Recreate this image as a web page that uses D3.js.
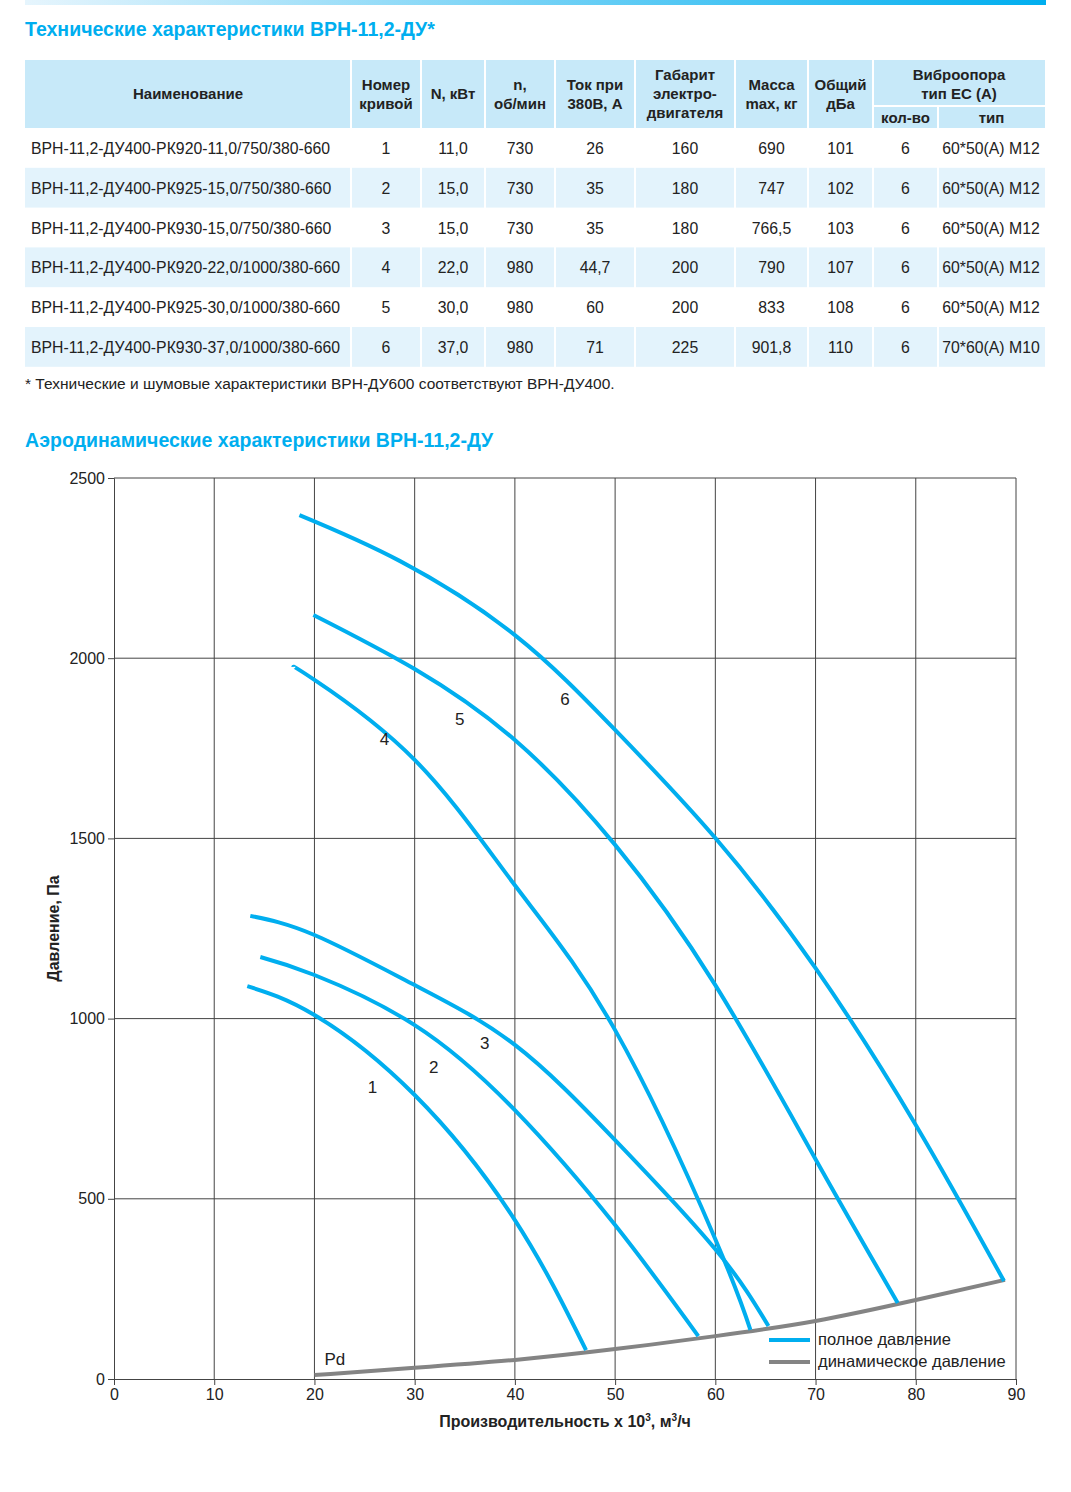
<!DOCTYPE html>
<html><head><meta charset="utf-8">
<script src="https://cdn.jsdelivr.net/npm/d3@7"></script>
<style>body{margin:0;background:#fff;font-family:Arial,"Liberation Sans",sans-serif}</style>
</head><body><svg id="chart" width="1071" height="1492" font-family="Arial, Liberation Sans, sans-serif"></svg>
<script>
const rows = [
  ['ВРН-11,2-ДУ400-РК920-11,0/750/380-660','1','11,0','730','26','160','690','101','6','60*50(A) M12'],
  ['ВРН-11,2-ДУ400-РК925-15,0/750/380-660','2','15,0','730','35','180','747','102','6','60*50(A) M12'],
  ['ВРН-11,2-ДУ400-РК930-15,0/750/380-660','3','15,0','730','35','180','766,5','103','6','60*50(A) M12'],
  ['ВРН-11,2-ДУ400-РК920-22,0/1000/380-660','4','22,0','980','44,7','200','790','107','6','60*50(A) M12'],
  ['ВРН-11,2-ДУ400-РК925-30,0/1000/380-660','5','30,0','980','60','200','833','108','6','60*50(A) M12'],
  ['ВРН-11,2-ДУ400-РК930-37,0/1000/380-660','6','37,0','980','71','225','901,8','110','6','70*60(A) M10']
]
const headers = [['Наименование'],['Номер','кривой'],['N, кВт'],['n,','об/мин'],['Ток при','380В, А'],['Габарит','электро-','двигателя'],['Масса','max, кг'],['Общий','дБа']]
const curves = [
  {id:'1', pts:[[13.3,1090],[20,1010],[30,788],[40,441],[47.1,80]], label:[25.8,793]},
  {id:'2', pts:[[14.6,1171],[20,1121],[30,982],[40,746],[50,427],[58.3,119]], label:[31.9,849]},
  {id:'3', pts:[[13.6,1285],[20,1232],[30,1093],[40,927],[50,663],[60,360],[65.3,147]], label:[37,915]},
  {id:'4', pts:[[17.9,1976],[20,1940],[30,1718],[40,1370],[50,968],[60,388],[63.5,136]], label:[27,1758]},
  {id:'5', pts:[[19.9,2120],[30,1970],[40,1773],[50,1482],[60,1093],[70,610],[78.2,211]], label:[34.5,1815]},
  {id:'6', pts:[[18.5,2397],[28.5,2270],[40,2064],[50,1801],[60,1501],[70,1140],[80,705],[88.8,272]], label:[45,1871]}
]
const pd = [[20,11],[30,31],[40,53],[50,83],[60,119],[70,161],[80,219],[88.9,275]]
const xTicks = [0,10,20,30,40,50,60,70,80,90]
const yTicks = [0,500,1000,1500,2000,2500]

const svg = d3.select('#chart')
const blue = '#00aeef', light = '#c7e9f9', ink = '#222'

const grad = svg.append('defs').append('linearGradient').attr('id','g')
grad.append('stop').attr('offset','0').attr('stop-color','#e6f5fd')
grad.append('stop').attr('offset','1').attr('stop-color',blue)
svg.append('rect').attr('x',25).attr('y',0).attr('width',1021).attr('height',5).attr('fill','url(#g)')

svg.append('text').attr('x',25).attr('y',36).attr('fill',blue).attr('font-size',19.5).attr('font-weight','bold')
  .text('Технические характеристики ВРН-11,2-ДУ*')

// table
const cols = [25,351,421,485,555,635,735,808,873,938,1045]
const tab = svg.append('g')
tab.append('rect').attr('x',25).attr('y',60).attr('width',1020).attr('height',68).attr('fill',light)
const bold = (sel, x, y, t) => sel.append('text').attr('x',x).attr('y',y).attr('text-anchor','middle')
  .attr('font-size',15).attr('font-weight','bold').attr('fill',ink).text(t)
headers.forEach((h,i) => {
  const cx = (cols[i]+cols[i+1])/2
  const y0 = 94 - (h.length-1)*9.5 + 5
  h.forEach((t,j) => bold(tab, cx, y0+j*19, t))
})
bold(tab,(cols[8]+cols[10])/2,80,'Виброопора')
bold(tab,(cols[8]+cols[10])/2,99,'тип ЕС (А)')
bold(tab,(cols[8]+cols[9])/2,123,'кол-во')
bold(tab,(cols[9]+cols[10])/2,123,'тип')
tab.append('line').attr('x1',cols[8]).attr('x2',cols[10]).attr('y1',106).attr('y2',106).attr('stroke','#fff').attr('stroke-width',2)
rows.forEach((r,i) => {
  const y = 128 + i*39.8
  if (i%2==1) tab.append('rect').attr('x',25).attr('y',y).attr('width',1020).attr('height',39.8).attr('fill','#e3f3fc')
  r.forEach((t,j) => tab.append('text')
    .attr('x', j==0 ? 31 : (j==9 ? 991 : (cols[j]+cols[j+1])/2)).attr('y',y+26)
    .attr('text-anchor', j==0 ? 'start' : 'middle').attr('font-size',15.8).attr('fill',ink).text(t))
})
cols.slice(1,-1).forEach((x,i) => tab.append('line').attr('x1',x).attr('x2',x).attr('y1',i==8 ? 106 : 60).attr('y2',367).attr('stroke','#fff').attr('stroke-width',2))
tab.append('text').attr('x',25).attr('y',389).attr('font-size',15.5).attr('fill',ink)
  .text('* Технические и шумовые характеристики ВРН-ДУ600 соответствуют ВРН-ДУ400.')

svg.append('text').attr('x',25).attr('y',447).attr('fill',blue).attr('font-size',19.5).attr('font-weight','bold')
  .text('Аэродинамические характеристики ВРН-11,2-ДУ')

// chart
const x = d3.scaleLinear().domain([0,90]).range([114,1016])
const y = d3.scaleLinear().domain([0,2500]).range([1379,478])
const g = svg.append('g')
g.append('g').selectAll('line').data(xTicks.slice(1)).join('line')
  .attr('x1',d=>x(d)).attr('x2',d=>x(d)).attr('y1',y(0)).attr('y2',y(2500)).attr('stroke','#444')
g.append('g').selectAll('line').data(yTicks.slice(1)).join('line')
  .attr('x1',x(0)).attr('x2',x(90)).attr('y1',d=>y(d)).attr('y2',d=>y(d)).attr('stroke','#444')
const xa = g.append('g').attr('transform',`translate(0,${y(0)})`).call(d3.axisBottom(x).tickValues(xTicks).tickSize(6).tickPadding(4))
const ya = g.append('g').attr('transform',`translate(${x(0)},0)`).call(d3.axisLeft(y).tickValues(yTicks).tickFormat(d3.format('d')).tickSize(6).tickPadding(3))
;[xa,ya].forEach(a => { a.selectAll('text').attr('font-size',16).attr('fill',ink).attr('font-family','Arial, Liberation Sans'); a.selectAll('line,path').attr('stroke','#444') })

const line = d3.line().x(d=>x(d[0])).y(d=>y(d[1])).curve(d3.curveNatural)
g.append('path').attr('d',line(pd)).attr('fill','none').attr('stroke','#848484').attr('stroke-width',4)
curves.forEach(c => {
  g.append('path').attr('d',line(c.pts)).attr('fill','none').attr('stroke',blue).attr('stroke-width',4)
  g.append('text').attr('x',x(c.label[0])).attr('y',y(c.label[1])).attr('text-anchor','middle').attr('font-size',17).attr('fill',ink).text(c.id)
})
g.append('text').attr('x',x(21)).attr('y',y(38)).attr('font-size',17).attr('fill',ink).text('Pd')

const leg = [['полное давление',blue],['динамическое давление','#848484']]
leg.forEach((l,i) => {
  const yy = 1340 + i*22
  g.append('line').attr('x1',769).attr('x2',810).attr('y1',yy).attr('y2',yy).attr('stroke',l[1]).attr('stroke-width',4)
  g.append('text').attr('x',818).attr('y',yy+5).attr('font-size',16.5).attr('fill',ink).text(l[0])
})

g.append('text').attr('x',x(45)).attr('y',1427).attr('text-anchor','middle').attr('font-size',16).attr('font-weight','bold').attr('fill',ink)
  .html('Производительность х 10<tspan dy="-6" font-size="10">3</tspan><tspan dy="6">, м</tspan><tspan dy="-6" font-size="10">3</tspan><tspan dy="6">/ч</tspan>')
g.append('text').attr('transform',`translate(59,${y(1250)}) rotate(-90)`).attr('text-anchor','middle').attr('font-size',16).attr('font-weight','bold').attr('fill',ink)
  .text('Давление, Па')
</script></body></html>
